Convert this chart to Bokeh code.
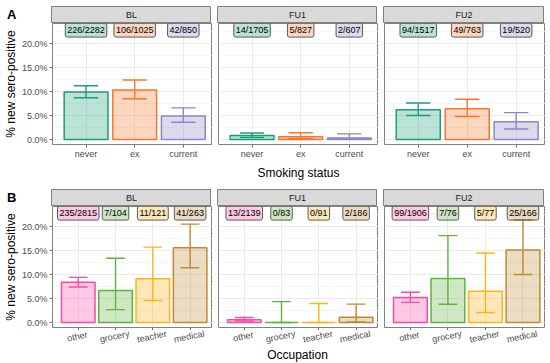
from bokeh.plotting import figure
from bokeh.layouts import column, row
from bokeh.models import Range1d, FixedTicker, PrintfTickFormatter, ColumnDataSource
from bokeh.core.properties import value
from bokeh.embed import file_html
from bokeh.resources import INLINE

# ---------------- data ----------------
waves = ["BL", "FU1", "FU2"]

smoking_cats = ["never", "ex", "current"]
smoking_colors = ["#1B9E77", "#F8762D", "#8E86C7"]

smoke_pct_bl = [9.9, 10.3, 4.9]
smoke_lo_bl = [8.7, 8.5, 3.6]
smoke_hi_bl = [11.2, 12.4, 6.6]
smoke_n_bl = ["226/2282", "106/1025", "42/850"]

smoke_pct_fu1 = [0.82, 0.60, 0.33]
smoke_lo_fu1 = [0.45, 0.20, 0.04]
smoke_hi_fu1 = [1.37, 1.41, 1.19]
smoke_n_fu1 = ["14/1705", "5/827", "2/607"]

smoke_pct_fu2 = [6.2, 6.4, 3.7]
smoke_lo_fu2 = [5.0, 4.8, 2.2]
smoke_hi_fu2 = [7.6, 8.4, 5.6]
smoke_n_fu2 = ["94/1517", "49/763", "19/520"]

occ_cats = ["other", "grocery", "teacher", "medical"]
occ_colors = ["#F84CA4", "#5EB43A", "#FDB416", "#BF8A33"]

occ_pct_bl = [8.4, 6.7, 9.1, 15.6]
occ_lo_bl = [7.4, 2.7, 4.6, 11.4]
occ_hi_bl = [9.4, 13.4, 15.7, 20.5]
occ_n_bl = ["235/2815", "7/104", "11/121", "41/263"]

occ_pct_fu1 = [0.61, 0.0, 0.0, 1.08]
occ_lo_fu1 = [0.32, 0.0, 0.0, 0.13]
occ_hi_fu1 = [1.04, 4.35, 3.97, 3.83]
occ_n_fu1 = ["13/2139", "0/83", "0/91", "2/186"]

occ_pct_fu2 = [5.2, 9.2, 6.5, 15.1]
occ_lo_fu2 = [4.2, 3.8, 2.1, 10.0]
occ_hi_fu2 = [6.3, 18.1, 14.5, 21.4]
occ_n_fu2 = ["99/1906", "7/76", "5/77", "25/166"]

y_major = [0, 5, 10, 15, 20]
y_minor = [2.5, 7.5, 12.5, 17.5, 22.5]

# ---------------- style ----------------
FONT = "Liberation Sans"
BORDER = "#808080"
TICKC = "#6E6E6E"
LABEL_Y = 22.8
Y_RANGE = (-1.03, 24.17)
LEFT = 51
GAP = 6
FRAME_WS = [160, 160, 161]
FRAME_H = 121
STRIP_H = 17
LABEL_ANGLE = 0.2


def base_fig(frame_w, frame_h, left, top=0, bottom=0, **kw):
    f = figure(frame_width=frame_w, frame_height=frame_h,
               output_backend="svg", toolbar_location=None,
               min_border_left=left, min_border_right=0,
               min_border_top=top, min_border_bottom=bottom, **kw)
    f.border_fill_color = "white"
    return f


def make_tag(tag, height, top_pad):
    t = base_fig(LEFT, height, 0, x_range=Range1d(0, LEFT),
                 y_range=Range1d(0, height), x_axis_type=None,
                 y_axis_type=None)
    t.outline_line_color = None
    t.background_fill_color = "white"
    t.text(x=[6.5], y=[height - top_pad], text=[tag], text_align="left",
           text_baseline="top", text_font=value(FONT),
           text_font_size="13px", text_font_style="bold", text_color="black")
    return t


def make_strip(name, left, frame_w, top=0):
    s = base_fig(frame_w, STRIP_H, left, top=top,
                 x_range=Range1d(0, 1), y_range=Range1d(0, 1),
                 x_axis_type=None, y_axis_type=None)
    s.background_fill_color = "#D9D9D9"
    s.outline_line_color = BORDER
    s.outline_line_width = 1
    s.text(x=[0.5], y=[0.5], text=[name], text_align="center",
           text_baseline="middle", text_font=value(FONT),
           text_font_size="9px", text_color="#1A1A1A")
    return s


def style_text_axis(ax):
    ax.major_label_text_font = FONT
    ax.major_label_text_font_size = "9px"
    ax.major_label_text_color = "#4D4D4D"
    ax.axis_line_color = None
    ax.major_tick_line_color = TICKC
    ax.major_tick_line_width = 1
    ax.major_tick_out = 3
    ax.major_tick_in = 0
    ax.minor_tick_line_color = None


def make_panel(cats, colors, pct, lo, hi, labels, xr, left, frame_w,
               first, xlab, show_labels, bottom):
    n = len(cats)
    xs = list(range(1, n + 1))
    p = base_fig(frame_w, FRAME_H, left, bottom=bottom,
                 x_range=xr, y_range=Range1d(*Y_RANGE))
    p.outline_line_color = BORDER
    p.outline_line_width = 1
    p.background_fill_color = "white"

    src = ColumnDataSource(dict(
        x=xs, top=pct, lo=lo, hi=hi, color=colors, label=labels,
        cl=[x - 0.25 for x in xs], cr=[x + 0.25 for x in xs]))

    p.vbar(x="x", top="top", bottom=0, width=0.9, fill_color="color",
           fill_alpha=0.3, line_color="color", line_width=1.5, source=src)
    p.segment(x0="x", y0="lo", x1="x", y1="hi", line_color="color",
              line_width=1.4, source=src)
    p.segment(x0="cl", y0="hi", x1="cr", y1="hi", line_color="color",
              line_width=1.4, source=src)
    p.segment(x0="cl", y0="lo", x1="cr", y1="lo", line_color="color",
              line_width=1.4, source=src)
    p.text(x="x", y=LABEL_Y, text="label", source=src,
           text_align="center", text_baseline="middle",
           text_font=value(FONT), text_font_size="9px", text_color="black",
           background_fill_color="color", background_fill_alpha=0.3,
           border_line_color="#5A5A5A", border_line_width=1,
           padding=2, border_radius=2)

    # grids
    p.xgrid.ticker = FixedTicker(ticks=xs)
    p.xgrid.grid_line_color = "#EBEBEB"
    p.xgrid.grid_line_width = 1
    p.ygrid.ticker = FixedTicker(ticks=y_major, minor_ticks=y_minor)
    p.ygrid.grid_line_color = "#EBEBEB"
    p.ygrid.grid_line_width = 1
    p.ygrid.minor_grid_line_color = "#F3F3F3"
    p.ygrid.minor_grid_line_width = 0.8

    # x axis
    ax = p.xaxis[0]
    ax.ticker = FixedTicker(ticks=xs)
    style_text_axis(ax)
    if show_labels:
        ax.major_label_overrides = {x: c for x, c in zip(xs, cats)}
        ax.major_label_standoff = 1
    else:
        ax.major_label_overrides = {x: "" for x in xs}
        ax.major_label_text_font_size = "0px"
        ax.major_label_standoff = 0
    if xlab:
        ax.axis_label = xlab
        ax.axis_label_text_font = FONT
        ax.axis_label_text_font_size = "12px"
        ax.axis_label_text_font_style = "normal"
        ax.axis_label_text_color = "black"
        ax.axis_label_standoff = 4

    # y axis
    ay = p.yaxis[0]
    if first:
        ay.ticker = FixedTicker(ticks=y_major)
        ay.formatter = PrintfTickFormatter(format="%.1f%%")
        style_text_axis(ay)
        ay.major_label_standoff = 2
        ay.axis_label = "% new sero-positive"
        ay.axis_label_text_font = FONT
        ay.axis_label_text_font_size = "12px"
        ay.axis_label_text_font_style = "normal"
        ay.axis_label_text_color = "black"
        ay.axis_label_standoff = 1
    else:
        ay.visible = False
    return p


def make_tick_labels(cats, xr, left, frame_w, height, xlab):
    n = len(cats)
    xs = list(range(1, n + 1))
    f = base_fig(frame_w, height, left, x_range=xr,
                 y_range=Range1d(0, 1), x_axis_type=None, y_axis_type=None)
    f.outline_line_color = None
    f.background_fill_color = "white"
    f.text(x=xs, y=[1] * n, text=cats, angle=LABEL_ANGLE,
           text_align="center", text_baseline="middle", y_offset=6,
           text_font=value(FONT), text_font_size="9px",
           text_color="#4D4D4D")
    if xlab:
        f.text(x=[(xr.start + xr.end) / 2], y=[1], text=[xlab],
               text_align="center", text_baseline="middle", y_offset=24,
               text_font=value(FONT), text_font_size="12px",
               text_color="black")
    return f


smoke_data = [
    (smoke_pct_bl, smoke_lo_bl, smoke_hi_bl, smoke_n_bl),
    (smoke_pct_fu1, smoke_lo_fu1, smoke_hi_fu1, smoke_n_fu1),
    (smoke_pct_fu2, smoke_lo_fu2, smoke_hi_fu2, smoke_n_fu2),
]
occ_data = [
    (occ_pct_bl, occ_lo_bl, occ_hi_bl, occ_n_bl),
    (occ_pct_fu1, occ_lo_fu1, occ_hi_fu1, occ_n_fu1),
    (occ_pct_fu2, occ_lo_fu2, occ_hi_fu2, occ_n_fu2),
]

lefts = [LEFT, GAP, GAP]

# ---- panel A ----
stripsA = [make_tag("A", STRIP_H + 6, 0)] + [
    make_strip(w, 0 if i == 0 else GAP, FRAME_WS[i], top=6)
    for i, w in enumerate(waves)]
panelsA = []
for i, d in enumerate(smoke_data):
    xr = Range1d(0.31, len(smoking_cats) + 0.6)
    panelsA.append(make_panel(smoking_cats, smoking_colors, *d, xr=xr,
                              left=lefts[i], frame_w=FRAME_WS[i],
                              first=(i == 0),
                              xlab="Smoking status" if i == 1 else None,
                              show_labels=True, bottom=45))

# ---- panel B ----
stripsB = [make_tag("B", STRIP_H, 0)] + [
    make_strip(w, 0 if i == 0 else GAP, FRAME_WS[i])
    for i, w in enumerate(waves)]
panelsB = []
labelsB = []
for i, d in enumerate(occ_data):
    xr = Range1d(0.31, len(occ_cats) + 0.6)
    panelsB.append(make_panel(occ_cats, occ_colors, *d, xr=xr,
                              left=lefts[i], frame_w=FRAME_WS[i],
                              first=(i == 0), xlab=None,
                              show_labels=False, bottom=3))
    labelsB.append(make_tick_labels(occ_cats, xr, lefts[i], FRAME_WS[i], 33,
                                    "Occupation" if i == 1 else None))

layout = column(
    row(*stripsA, spacing=0),
    row(*panelsA, spacing=0),
    row(*stripsB, spacing=0),
    row(*panelsB, spacing=0),
    row(*labelsB, spacing=0),
    spacing=0,
)

open("out.html", "w").write(file_html(layout, INLINE))
